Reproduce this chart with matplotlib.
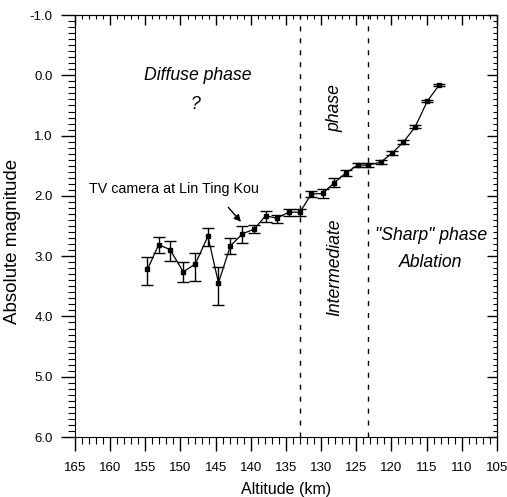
import numpy as np
import matplotlib
matplotlib.use("Agg")
import matplotlib.pyplot as plt
from matplotlib.ticker import MultipleLocator, FormatStrFormatter

plt.rcParams['font.family'] = ['Liberation Sans', 'DejaVu Sans']
plt.rcParams['axes.unicode_minus'] = False

# meteor light curve: altitude (km) vs absolute magnitude
alt = [154.7, 153.1, 151.5, 149.6, 147.9, 146.1, 144.6, 142.9, 141.2, 139.5,
       137.9, 136.3, 134.6, 133.0, 131.4, 129.8, 128.1, 126.5, 124.8, 123.3,
       121.5, 119.9, 118.3, 116.6, 114.9, 113.2]
mag = [3.22, 2.81, 2.89, 3.26, 3.13, 2.67, 3.44, 2.83, 2.63, 2.55,
       2.33, 2.37, 2.27, 2.27, 1.97, 1.96, 1.78, 1.62, 1.49, 1.49,
       1.44, 1.29, 1.11, 0.85, 0.43, 0.16]
err_lo = [0.20, 0.13, 0.15, 0.16, 0.19, 0.13, 0.26, 0.13, 0.13, 0.07,
          0.08, 0.06, 0.06, 0.06, 0.045, 0.07, 0.07, 0.045, 0.035, 0.035,
          0.03, 0.03, 0.03, 0.03, 0.02, 0.01]
err_hi = [0.25, 0.14, 0.19, 0.17, 0.28, 0.16, 0.37, 0.14, 0.15, 0.07,
          0.10, 0.08, 0.06, 0.06, 0.045, 0.08, 0.07, 0.045, 0.035, 0.035,
          0.03, 0.03, 0.03, 0.03, 0.02, 0.01]

# phase boundaries (km)
bounds = [133.0, 123.3]

fig = plt.figure(figsize=(5.07, 4.97), dpi=100)
ax = fig.add_axes([0.148, 0.1207, 0.832, 0.849])

ax.errorbar(alt, mag, yerr=[err_lo, err_hi], fmt='-s', color='black',
            lw=0.9, elinewidth=1.0, capsize=4.5, capthick=1.0,
            markersize=2.5, zorder=3)

for b in bounds:
    ax.axvline(b, color='black', lw=1.0, dashes=(3.6, 5))

ax.set_xlim(165, 105)
ax.set_ylim(6.0, -1.0)

ax.xaxis.set_major_locator(MultipleLocator(5))
ax.xaxis.set_minor_locator(MultipleLocator(1))
ax.yaxis.set_major_locator(MultipleLocator(1))
ax.yaxis.set_minor_locator(MultipleLocator(0.1))
ax.xaxis.set_major_formatter(FormatStrFormatter('%d'))
ax.yaxis.set_major_formatter(FormatStrFormatter('%.1f'))

ax.tick_params(which='major', direction='out', length=10, width=1.0,
               labelsize=9.5, pad=6)
ax.tick_params(axis='x', which='major', pad=8)
ax.tick_params(which='minor', direction='out', length=5, width=0.8)

# inward ticks on the top and right edges
top = ax.secondary_xaxis('top')
top.xaxis.set_major_locator(MultipleLocator(5))
top.xaxis.set_minor_locator(MultipleLocator(1))
top.tick_params(which='major', direction='in', length=7, width=1.0, labeltop=False)
top.tick_params(which='minor', direction='in', length=3, width=0.8)

right = ax.secondary_yaxis('right')
right.yaxis.set_major_locator(MultipleLocator(1))
right.yaxis.set_minor_locator(MultipleLocator(0.1))
right.tick_params(which='major', direction='in', length=7, width=1.0, labelright=False)
right.tick_params(which='minor', direction='in', length=3, width=0.8)

ax.set_xlabel('Altitude (km)', fontsize=11.5, labelpad=6)
ax.set_ylabel('Absolute magnitude', fontsize=13.5)
ax.yaxis.set_label_coords(-0.128, 0.464)

ax.text(147.6, 0.0, 'Diffuse phase', style='italic', fontsize=12.7,
        ha='center', va='center')
ax.text(147.9, 0.49, '?', style='italic', fontsize=12.7, ha='center', va='center')
ax.text(128.0, 0.54, 'phase', style='italic', fontsize=12.7, rotation=90,
        ha='center', va='center')
ax.text(128.1, 3.19, 'Intermediate', style='italic', fontsize=12.7, rotation=90,
        ha='center', va='center')
ax.text(114.4, 2.65, '"Sharp" phase', style='italic', fontsize=12.7,
        ha='center', va='center')
ax.text(114.5, 3.11, 'Ablation', style='italic', fontsize=12.7,
        ha='center', va='center')

ax.text(163.0, 1.96, 'TV camera at Lin Ting Kou', fontsize=10.3,
        ha='left', va='baseline')
ax.annotate('', xy=(141.4, 2.43), xytext=(143.2, 2.19),
            arrowprops=dict(arrowstyle='-|>', color='black', lw=1.0,
                            mutation_scale=10, shrinkA=0, shrinkB=0))

fig.savefig('out.png', dpi=100)
